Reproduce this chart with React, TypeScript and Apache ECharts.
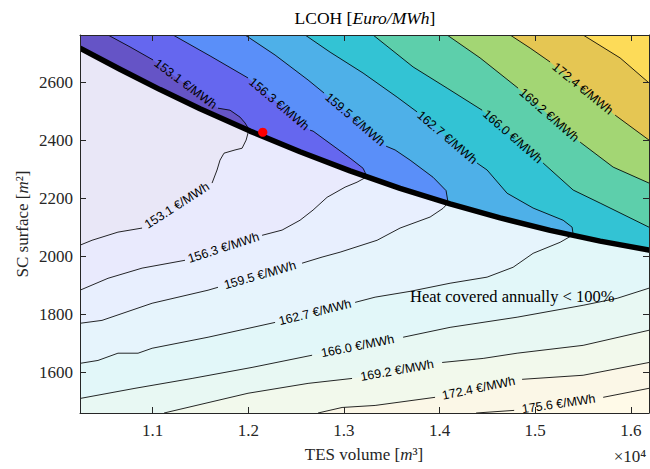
import React, { useEffect, useRef } from "react";
import * as echarts from "echarts";

const X_MIN = 10240;
const X_MAX = 16190;
const Y_MIN = 1460;
const Y_MAX = 2762;

const xTicks = [11000, 12000, 13000, 14000, 15000, 16000];
const yTicks = [1600, 1800, 2000, 2200, 2400, 2600];

const levels = [153.1, 156.3, 159.5, 162.7, 166.0, 169.2, 172.4, 175.6];

// thick line: heat covered annually = 100 %
const boundary = [[10240,2717],[10658,2644],[11077,2574],[11495,2508],[12018,2431],[12541,2360],[13064,2294],[13587,2234],[14110,2180],[14633,2132],[15156,2089],[15679,2052],[16190,2021]];

const optimum = [12151, 2427];

// contour lines above the boundary (from top edge)
const upper153 = [[10533,2762],[10763,2721],[11004,2676],[11683,2510],[11809,2503],[11914,2479],[11966,2459],[12018,2431]];
const upper156 = [[11213,2762],[11600,2690],[11997,2614],[12646,2434],[12677,2431],[13064,2338],[13200,2303],[13242,2274]];
const upper159 = [[11966,2762],[12280,2693],[12625,2607],[12792,2562],[13441,2379],[13535,2366],[13692,2331],[13932,2272],[14068,2226],[14089,2184]];
const upper162 = [[12594,2762],[12855,2703],[13200,2631],[13556,2548],[13765,2497],[14392,2321],[14497,2297],[14706,2217],[14978,2166],[15292,2124],[15386,2100],[15397,2074]];
const upper166 = [[13305,2762],[13723,2652],[14079,2579],[14445,2503],[15083,2321],[15397,2228],[15679,2183],[16190,2100]];
const upper169 = [[14079,2762],[14424,2683],[14821,2579],[15470,2393],[15815,2307],[16190,2252]];
const upper172 = [[14738,2762],[14947,2717],[15156,2669],[15836,2486],[16190,2400]];
const upper175 = [[15501,2762],[15888,2683],[16190,2597]];
const upperGaps = [2, 2, 3, 4, 3, 2, 2, -1];

// contour lines below the boundary
const lower153 = [[10240,2038],[10366,2055],[10637,2083],[10889,2097],[11621,2252],[11673,2297],[11704,2331],[11746,2355],[11861,2366],[11935,2372],[11977,2400],[12000,2428]];
const lower156 = [[10240,1883],[10533,1924],[10889,1959],[11338,1986],[12144,2072],[12353,2090],[12541,2124],[12677,2159],[12824,2203],[13012,2238],[13137,2255],[13242,2274]];
const lower159 = [[10240,1769],[10470,1779],[10994,1838],[11579,1883],[11683,1893],[12562,1976],[12771,1997],[12960,2014],[13347,2055],[13587,2097],[13901,2135],[14037,2165],[14089,2184]];
const lower162 = [[10240,1631],[10428,1641],[10637,1666],[10847,1666],[10994,1683],[11579,1721],[12280,1772],[13117,1841],[13326,1859],[13692,1879],[14110,1907],[14497,1928],[14769,1962],[14978,2010],[15261,2048],[15397,2074]];
const lower166 = [[10240,1510],[10815,1545],[11412,1579],[12039,1617],[12667,1659],[13619,1721],[14110,1755],[14811,1790],[15501,1831],[15857,1855],[16190,1890]];
const lower169 = [[11119,1460],[11997,1528],[12625,1562],[13085,1579],[14027,1634],[14456,1648],[14811,1666],[15501,1693],[16190,1745]];
const lower172 = [[12729,1460],[12981,1479],[13326,1486],[13953,1514],[14863,1576],[15501,1590],[16190,1634]];
const lower175 = [[14382,1460],[14780,1469],[15711,1514],[16190,1545]];
const lowerGaps = [3, 3, 4, 6, 4, 3, 3, 1];

const upperLines = [upper153, upper156, upper159, upper162, upper166, upper169, upper172, upper175];
const lowerLines = [lower153, lower156, lower159, lower162, lower166, lower169, lower172, lower175];

const noteText = "Heat covered annually < 100%";
const notePos = [14760, 1862];

// styles
const bandColors = ["#6554c6", "#6567ef", "#5a8ff9", "#4eb0e8", "#33c3d4", "#5dcfab", "#a3d674", "#e5c653", "#fddb58"];
const FADE = 0.14;
const SERIF = "'Liberation Serif', 'Times New Roman', serif";
const SANS = "'Liberation Sans', Arial, sans-serif";
const AX = "#262626";

function fade(hex: string): string {
  const n = parseInt(hex.slice(1), 16);
  const r = (n >> 16) & 255, g = (n >> 8) & 255, b = n & 255;
  const f = (v: number) => Math.round(FADE * v + (1 - FADE) * 255);
  return `rgb(${f(r)},${f(g)},${f(b)})`;
}

const centered = { align: "center", verticalAlign: "middle", textAlign: "center", textVerticalAlign: "middle" };

export default function App() {
  const ref = useRef<HTMLDivElement>(null);
  useEffect(() => {
    if (!ref.current) return;
    const chart = echarts.init(ref.current, null, { renderer: "svg" });

    const renderItem = (_params: any, api: any) => {
      const c = (p: number[]) => api.coord(p);
      const children: any[] = [];
      const poly = (pts: number[][], fill: string) =>
        children.push({ type: "polygon", shape: { points: pts.map(c) }, style: { fill } });

      // upper (full colour) region
      poly([[X_MIN, Y_MIN], [X_MAX, Y_MIN], [X_MAX, Y_MAX], [X_MIN, Y_MAX]], bandColors[0]);
      upperLines.forEach((pts, i) => {
        const last = pts[pts.length - 1];
        const closing = last[0] >= X_MAX ? [[X_MAX, Y_MAX]] : [[X_MAX, Y_MIN], [X_MAX, Y_MAX]];
        poly([...pts, ...closing], bandColors[i + 1]);
      });
      // lower (faded) region
      poly([...boundary, [X_MAX, Y_MIN], [X_MIN, Y_MIN]], fade(bandColors[0]));
      lowerLines.forEach((pts, i) => {
        const first = pts[0];
        const last = pts[pts.length - 1];
        let out = [...pts];
        if (last[0] < X_MAX) out = out.concat(boundary.filter((b) => b[0] > last[0]));
        out.push([X_MAX, Y_MIN]);
        if (first[0] <= X_MIN) out.push([X_MIN, Y_MIN]);
        poly(out, fade(bandColors[i + 1]));
      });

      // contour lines + labels
      const labels: any[] = [];
      const addLine = (pts: number[][], gap: number, level: number) => {
        const parts = gap >= 0 ? [pts.slice(0, gap + 1), pts.slice(gap + 1)] : [pts];
        parts.forEach((part) => {
          if (part.length > 1)
            children.push({
              type: "polyline",
              shape: { points: part.map(c) },
              style: { stroke: "#000", lineWidth: 0.85, fill: null },
            });
        });
        if (gap >= 0) {
          const p1 = c(pts[gap]);
          const p2 = c(pts[gap + 1]);
          const ang = Math.atan2(p2[1] - p1[1], p2[0] - p1[0]);
          labels.push({
            type: "text",
            x: (p1[0] + p2[0]) / 2,
            y: (p1[1] + p2[1]) / 2,
            rotation: -ang,
            style: {
              text: `${level.toFixed(1)} €/MWh`,
              fill: "#000",
              fontSize: 12.5,
              fontFamily: SANS,
              ...centered,
            },
          });
        }
      };
      upperLines.forEach((pts, i) => addLine(pts, upperGaps[i], levels[i]));
      lowerLines.forEach((pts, i) => addLine(pts, lowerGaps[i], levels[i]));

      children.push({
        type: "polyline",
        shape: { points: boundary.map(c) },
        style: { stroke: "#000", lineWidth: 5.5, fill: null, lineCap: "round", lineJoin: "round" },
      });
      children.push(...labels);
      const o = c(optimum);
      children.push({ type: "circle", shape: { cx: o[0], cy: o[1], r: 4.6 }, style: { fill: "#ff0000" } });
      const np = c(notePos);
      children.push({
        type: "text",
        x: np[0],
        y: np[1],
        style: { text: noteText, fill: "#000", fontSize: 16.5, fontFamily: SERIF, ...centered },
      });
      return { type: "group", children };
    };

    const axisCommon = (ticks: number[]) => ({
      type: "value",
      z: 10,
      axisLine: { show: true, onZero: false, lineStyle: { color: AX, width: 1 } },
      axisTick: { show: true, inside: true, length: 6, customValues: ticks, lineStyle: { color: AX, width: 1 } },
      splitLine: { show: false },
      minorTick: { show: false },
    });

    const option: any = {
      animation: false,
      backgroundColor: "#ffffff",
      grid: { left: 80, right: 1, top: 35, bottom: 56, containLabel: false, outerBoundsMode: "none" },
      xAxis: [
        {
          ...axisCommon(xTicks),
          min: X_MIN,
          max: X_MAX,
          position: "bottom",
          axisLabel: {
            show: true,
            customValues: xTicks,
            formatter: (v: number) => (v / 10000).toFixed(1),
            color: AX,
            fontFamily: SERIF,
            fontSize: 17,
            margin: 9,
          },
        },
        {
          ...axisCommon(xTicks),
          min: X_MIN,
          max: X_MAX,
          position: "top",
          axisLabel: { show: false, customValues: xTicks },
        },
      ],
      yAxis: [
        {
          ...axisCommon(yTicks),
          min: Y_MIN,
          max: Y_MAX,
          position: "left",
          axisLabel: {
            show: true,
            customValues: yTicks,
            formatter: (v: number) => String(v),
            color: AX,
            fontFamily: SERIF,
            fontSize: 17,
            margin: 7,
          },
        },
        {
          ...axisCommon(yTicks),
          min: Y_MIN,
          max: Y_MAX,
          position: "right",
          axisLabel: { show: false, customValues: yTicks },
        },
      ],
      series: [
        {
          type: "custom",
          coordinateSystem: "cartesian2d",
          xAxisIndex: 0,
          yAxisIndex: 0,
          clip: true,
          z: 2,
          data: [[X_MIN, Y_MIN]],
          renderItem,
        },
      ],
      graphic: [
        {
          type: "text",
          x: 365,
          y: 18,
          style: {
            text: "{r|LCOH [}{i|Euro/MWh}{r|]}",
            rich: {
              r: { fontFamily: SERIF, fontSize: 17.5, fill: "#000" },
              i: { fontFamily: SERIF, fontSize: 17.5, fontStyle: "italic", fill: "#000" },
            },
            ...centered,
          },
        },
        {
          type: "text",
          x: 364,
          y: 454,
          style: {
            text: "{r|TES volume [}{i|m}{r|³]}",
            rich: {
              r: { fontFamily: SERIF, fontSize: 17, fill: AX },
              i: { fontFamily: SERIF, fontSize: 17, fontStyle: "italic", fill: AX },
            },
            ...centered,
          },
        },
        {
          type: "text",
          x: 22,
          y: 224,
          rotation: Math.PI / 2,
          style: {
            text: "{r|SC surface [}{i|m}{r|²]}",
            rich: {
              r: { fontFamily: SERIF, fontSize: 17, fill: AX },
              i: { fontFamily: SERIF, fontSize: 17, fontStyle: "italic", fill: AX },
            },
            ...centered,
          },
        },
        {
          type: "text",
          x: 630,
          y: 456,
          style: {
            text: "×10⁴",
            fontFamily: SERIF,
            fontSize: 17,
            fill: AX,
            ...centered,
          },
        },
      ],
    };
    chart.setOption(option);
    return () => chart.dispose();
  }, []);

  return (
    <div
      ref={ref}
      style={{ position: "fixed", left: 0, top: 0, width: 650, height: 469, background: "#fff" }}
    />
  );
}
